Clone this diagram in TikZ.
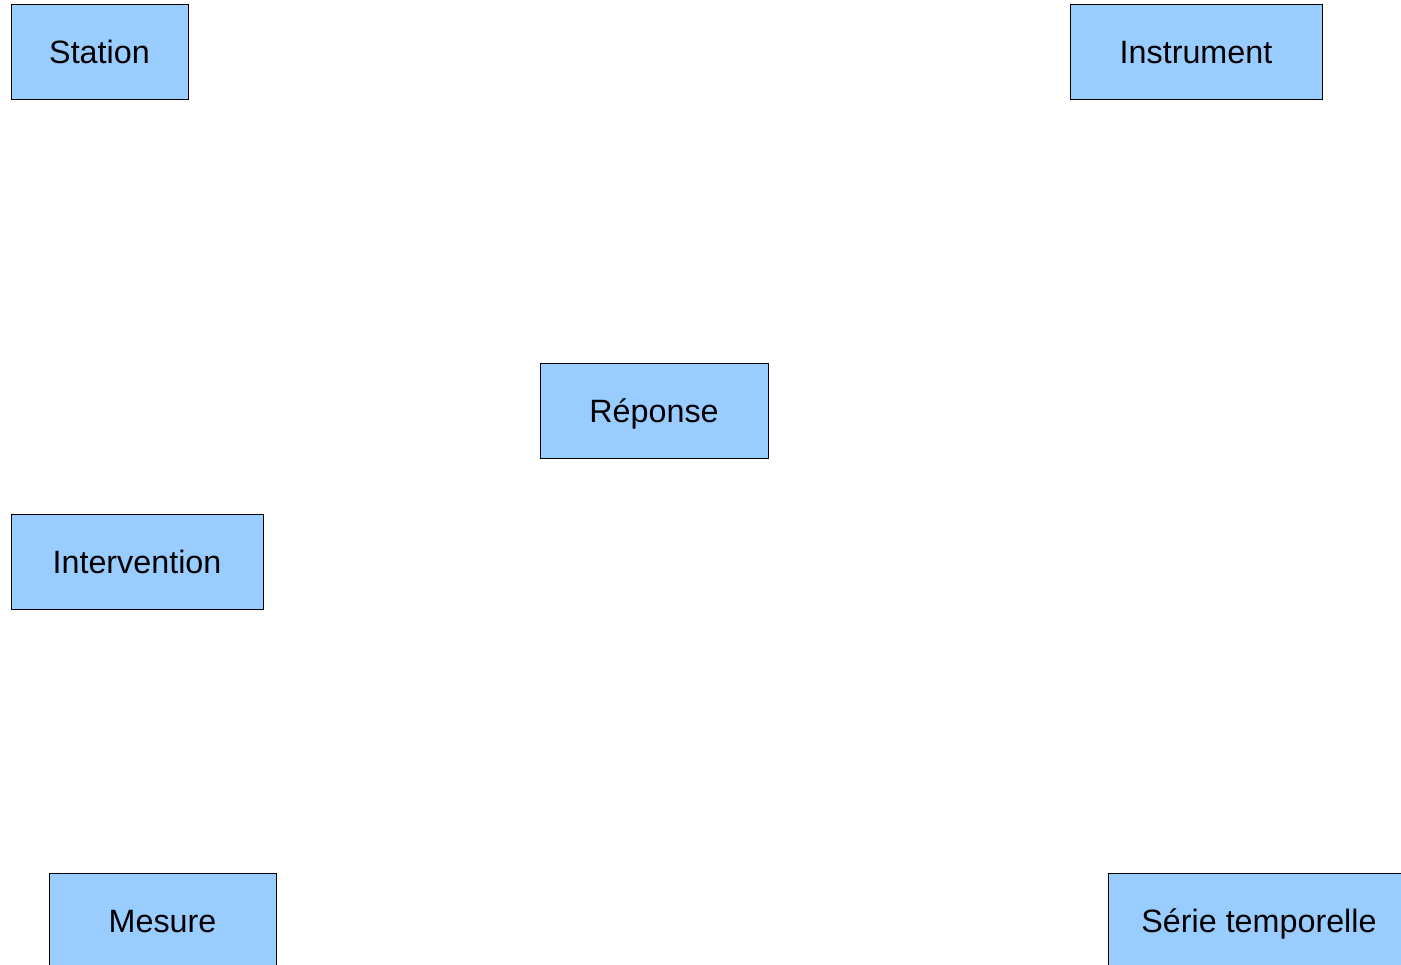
\documentclass[tikz,border=0pt]{standalone}
\usepackage{fontspec}
\setmainfont{Liberation Sans}
\definecolor{boxblue}{HTML}{99CCFF}
\begin{document}
\begin{tikzpicture}[x=1pt,y=-1pt,
  entity/.style={draw=black, line width=0.9pt, fill=boxblue, inner sep=0pt,
    minimum height=95pt},
  label/.style={font=\fontsize{32.3}{38}\selectfont, text=black, inner sep=0pt,
    text height=23.2pt, text depth=0pt, anchor=base, yshift=-11.6pt}]
\useasboundingbox (0,0) rectangle (1401,965);
\clip (0,0) rectangle (1401,965);
\fill[white] (0,0) rectangle (1401,965);
% entity boxes, captions set on a common baseline through each box centre
\node[entity, minimum width=177pt] (station) at (99.5,51.5) {};
\node[entity, minimum width=252pt] (instrument) at (1196,51.5) {};
\node[entity, minimum width=228pt] (reponse) at (654,410.5) {};
\node[entity, minimum width=252pt] (intervention) at (137,561.5) {};
\node[entity, minimum width=227pt] (mesure) at (162.5,920.5) {};
\node[entity, minimum width=302pt] (serie) at (1259,920.5) {};
\node[label] (stationtxt) at (station) {Station};
\node[label] (instrumenttxt) at (instrument) {Instrument};
\node[label] (reponsetxt) at (reponse) {Réponse};
\node[label] (interventiontxt) at (intervention) {Intervention};
\node[label] (mesuretxt) at (mesure) {Mesure};
\node[label] (serietxt) at (serie) {Série temporelle};
\end{tikzpicture}
\end{document}
